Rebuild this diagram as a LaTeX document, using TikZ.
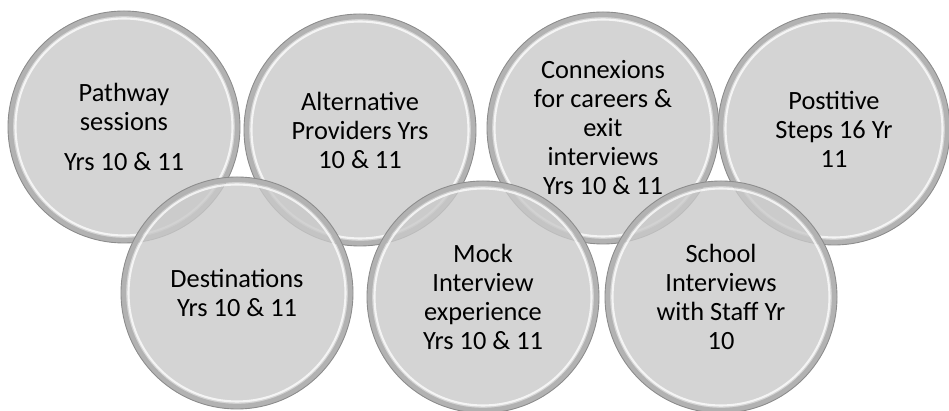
\documentclass[tikz,border=0pt]{standalone}
\usepackage{fontspec}
\setmainfont{Carlito}
\begin{document}
\begin{tikzpicture}[x=0.2mm, y=-0.2mm]
\tikzset{bulle/.style={draw=black!45, line width=0.5pt, circle, fill=black!21, fill opacity=0.8, text opacity=1, minimum size=4.64cm, inner sep=0pt, align=center, font=\fontsize{15}{16.5}\selectfont,
  path picture={
    \draw[black!30, line width=3pt] (path picture bounding box.center) circle (2.27cm);
    \draw[white, opacity=0.75, line width=1.2pt] (path picture bounding box.center) circle (2.17cm);}}}
\useasboundingbox (0,0) rectangle (949,411);
\node[bulle] (B1) at (124,127) {Pathway\\sessions\\[0.22cm]Yrs 10 \& 11};
\node[bulle] (B2) at (360,130) {Alternative\\Providers Yrs\\10 \& 11};
\node[bulle] (B3) at (603,128) {Connexions\\for careers \&\\exit\\interviews\\Yrs 10 \& 11};
\node[bulle] (B4) at (834,129) {Postitive\\Steps 16 Yr\\11};
\node[bulle] (B5) at (237,293) {Destinations\\Yrs 10 \& 11};
\node[bulle] (B6) at (483,297) {Mock\\Interview\\experience\\Yrs 10 \& 11};
\node[bulle] (B7) at (721,297) {School\\Interviews\\with Staff Yr\\10};
\end{tikzpicture}
\end{document}
